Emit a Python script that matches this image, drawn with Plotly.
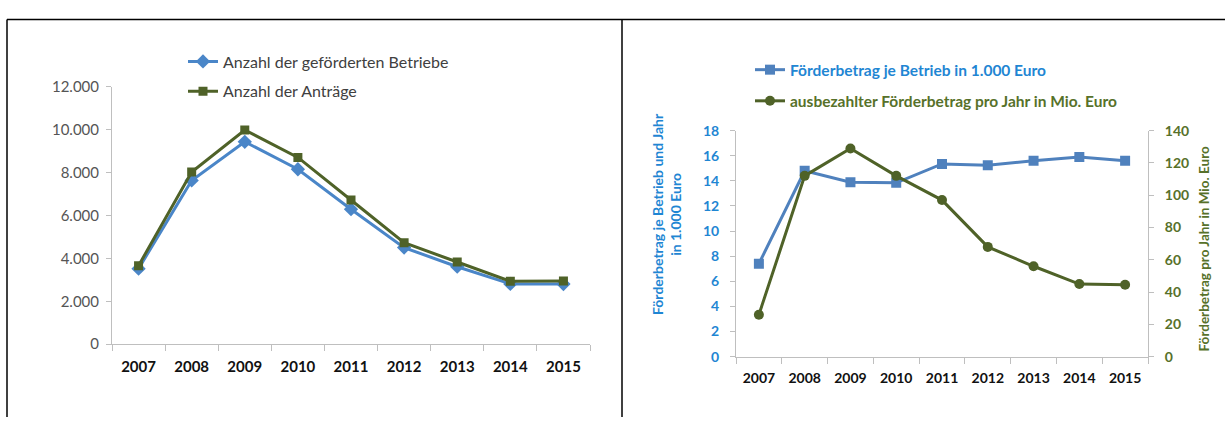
import plotly.graph_objects as go

# --- data -----------------------------------------------------------------
years = ["2007", "2008", "2009", "2010", "2011", "2012", "2013", "2014", "2015"]

# left chart: number of funded farms and number of applications
betriebe = [3520, 7630, 9430, 8150, 6290, 4500, 3610, 2810, 2800]
antraege = [3660, 8020, 9980, 8700, 6720, 4730, 3830, 2930, 2950]

# right chart: funding per farm (1.000 Euro) and total paid per year (Mio. Euro)
je_betrieb = [7.4, 14.8, 13.9, 13.85, 15.35, 15.25, 15.6, 15.9, 15.6]
pro_jahr = [26, 112, 129, 112, 97, 68, 56, 45, 44.5]

left_y_ticks = [0, 2000, 4000, 6000, 8000, 10000, 12000]
right_y1_ticks = [0, 2, 4, 6, 8, 10, 12, 14, 16, 18]
right_y2_ticks = [0, 20, 40, 60, 80, 100, 120, 140]

# --- styling --------------------------------------------------------------
W, H = 1225, 425
FONT = "Lato"
BLUE_LINE_L = "#4A86C8"
BLUE_LINE_R = "#4F81BD"
GREEN_LINE = "#4F6228"
BLUE_TEXT = "#1F86D3"
GREEN_TEXT = "#57712A"
AXIS = "#BFBFBF"


def px_x(x):
    return x / W


def px_y(y):
    return 1 - y / H


fig = go.Figure()

# left chart traces
fig.add_trace(go.Scatter(
    x=years, y=betriebe, name="Anzahl der geförderten Betriebe",
    mode="lines+markers", line=dict(color=BLUE_LINE_L, width=3),
    marker=dict(symbol="diamond", size=11, color=BLUE_LINE_L),
    xaxis="x", yaxis="y", legend="legend", legendgroup="a"))
fig.add_trace(go.Scatter(
    x=years, y=antraege, name="Anzahl der Anträge",
    mode="lines+markers", line=dict(color=GREEN_LINE, width=3),
    marker=dict(symbol="square", size=9, color=GREEN_LINE),
    xaxis="x", yaxis="y", legend="legend", legendgroup="b"))

# right chart traces
fig.add_trace(go.Scatter(
    x=years, y=je_betrieb,
    name=f"<b><span style='color:{BLUE_TEXT}'>Förderbetrag je Betrieb in 1.000 Euro</span></b>",
    mode="lines+markers", line=dict(color=BLUE_LINE_R, width=3),
    marker=dict(symbol="square", size=10, color=BLUE_LINE_R),
    xaxis="x2", yaxis="y2", legend="legend2", legendgroup="c"))
fig.add_trace(go.Scatter(
    x=years, y=pro_jahr,
    name=f"<b><span style='color:{GREEN_TEXT}'>ausbezahlter Förderbetrag pro Jahr in Mio. Euro</span></b>",
    mode="lines+markers", line=dict(color=GREEN_LINE, width=3),
    marker=dict(symbol="circle", size=10, color=GREEN_LINE),
    xaxis="x2", yaxis="y3", legend="legend2", legendgroup="d"))

xaxis_common = dict(
    type="category", categoryorder="array", categoryarray=years,
    range=[-0.5, 8.5], showline=True, linecolor=AXIS, linewidth=1,
    ticks="outside", tickson="boundaries", ticklen=6, tickcolor=AXIS,
    ticklabelstandoff=9, showgrid=False, zeroline=False, fixedrange=True,
)

fig.update_layout(
    width=W, height=H,
    margin=dict(l=0, r=0, t=0, b=0),
    paper_bgcolor="white", plot_bgcolor="white",
    separators=",.",
    font=dict(family=FONT, size=14, color="#404040"),
    showlegend=True,
    xaxis=dict(**xaxis_common, domain=[px_x(112), px_x(590)], anchor="y",
               tickfont=dict(family=FONT, size=15, color="#111111", weight="bold")),
    yaxis=dict(domain=[px_y(349), px_y(80)], anchor="x", range=[0, 12000],
               tickvals=left_y_ticks, tickformat=",d",
               showline=True, linecolor=AXIS, ticks="outside", ticklen=5,
               tickcolor=AXIS, ticklabelstandoff=4, showgrid=False,
               zeroline=False,
               tickfont=dict(family=FONT, size=15, color="#555555")),
    xaxis2=dict(**xaxis_common, domain=[px_x(736), px_x(1148)], anchor="y2",
                tickfont=dict(family=FONT, size=14, color="#111111", weight="bold")),
    yaxis2=dict(domain=[px_y(362), px_y(126)], anchor="x2", range=[0, 18],
                tickvals=right_y1_ticks, showline=True, linecolor=AXIS,
                ticks="outside", ticklen=5, tickcolor=AXIS,
                ticklabelstandoff=8, showgrid=False, zeroline=False,
                tickfont=dict(family=FONT, size=14, color=BLUE_TEXT, weight="bold")),
    yaxis3=dict(domain=[px_y(362), px_y(126)], anchor="x2", overlaying="y2",
                side="right", range=[0, 140], tickvals=right_y2_ticks,
                showline=True, linecolor=AXIS, ticks="outside", ticklen=5,
                tickcolor=AXIS, ticklabelstandoff=8, showgrid=False,
                zeroline=False,
                tickfont=dict(family=FONT, size=14, color=GREEN_TEXT, weight="bold")),
    legend=dict(x=px_x(183), y=px_y(36), xanchor="left", yanchor="top",
                bgcolor="rgba(0,0,0,0)", tracegroupgap=6,
                font=dict(family=FONT, size=16, color="#404040")),
    legend2=dict(x=px_x(750), y=px_y(45), xanchor="left", yanchor="top",
                 bgcolor="rgba(0,0,0,0)", tracegroupgap=8,
                 font=dict(family=FONT, size=15.5)),
)

# rotated axis titles of the right chart
fig.add_annotation(
    x=px_x(667), y=px_y(213), xref="paper", yref="paper",
    text="<b>Förderbetrag je Betrieb und Jahr<br>in 1.000 Euro</b>",
    textangle=-90, showarrow=False, xanchor="center", yanchor="middle",
    font=dict(family=FONT, size=14, color=BLUE_TEXT))
fig.add_annotation(
    x=px_x(1204), y=px_y(250), xref="paper", yref="paper",
    text="<b>Förderbetrag pro Jahr in Mio. Euro</b>",
    textangle=-90, showarrow=False, xanchor="center", yanchor="middle",
    font=dict(family=FONT, size=13.5, color=GREEN_TEXT))

# frame lines: top rule, left edge and divider between the two charts
for x0, y0, x1, y1 in [(7, 10, W, 10), (7, 10, 7, H), (622, 10, 622, H)]:
    fig.add_shape(type="line", xref="paper", yref="paper",
                  x0=px_x(x0), y0=px_y(y0), x1=px_x(x1), y1=px_y(y1),
                  line=dict(color="black", width=1.5))

# page body without the default browser margin
fig.write_html(
    "out.html",
    post_script="document.body.style.margin='0';document.body.style.overflow='hidden';",
)
